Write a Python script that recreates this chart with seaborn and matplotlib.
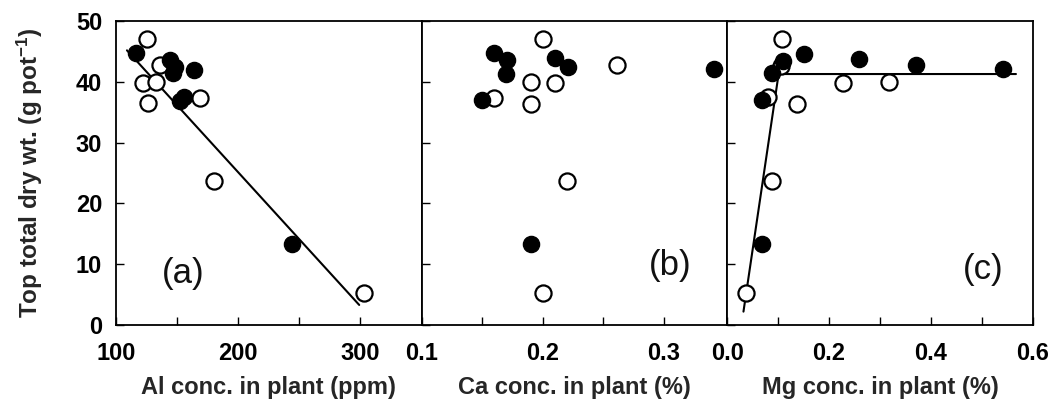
import numpy as np
import pandas as pd
import matplotlib
matplotlib.use("Agg")
import matplotlib.pyplot as plt
import seaborn as sns

# ---- data ----
al_x = [125, 136, 122, 133, 126, 169, 180, 303,
        116, 144, 148, 147, 164, 152, 156, 244]
al_y = [47.0, 42.8, 39.8, 40.0, 36.5, 37.4, 23.7, 5.3,
        44.7, 43.6, 42.5, 41.4, 41.9, 36.8, 37.5, 13.4]
al_fill = ["open"] * 8 + ["filled"] * 8
al_fit_x = [109, 299]
al_fit_y = [45.2, 3.3]

ca_x = [0.200, 0.261, 0.190, 0.210, 0.160, 0.190, 0.220, 0.200,
        0.1595, 0.1705, 0.170, 0.210, 0.221, 0.341, 0.150, 0.190]
ca_y = [47.0, 42.8, 40.0, 39.8, 37.4, 36.3, 23.7, 5.3,
        44.7, 43.6, 41.3, 43.9, 42.5, 42.1, 37.1, 13.4]
ca_fill = ["open"] * 8 + ["filled"] * 8

mg_x = [0.107, 0.105, 0.228, 0.318, 0.081, 0.138, 0.088, 0.037,
        0.109, 0.150, 0.088, 0.259, 0.370, 0.541, 0.068, 0.068]
mg_y = [47.0, 42.6, 39.8, 40.0, 37.6, 36.3, 23.7, 5.3,
        43.5, 44.6, 41.4, 43.7, 42.8, 42.1, 37.1, 13.4]
mg_fill = ["open"] * 8 + ["filled"] * 8
mg_fit_x = [0.032, 0.101, 0.567]
mg_fit_y = [2.2, 41.3, 41.3]

y_ticks = [0, 10, 20, 30, 40, 50]
panel_labels = ["(a)", "(b)", "(c)"]
x_labels = ["Al conc. in plant (ppm)", "Ca conc. in plant (%)", "Mg conc. in plant (%)"]
y_label = "Top total dry wt. (g pot$^{\\mathbf{-1}}$)"

# ---- style ----
sns.set_theme(style="ticks")
plt.rcParams["font.family"] = ["Liberation Sans", "DejaVu Sans"]
plt.rcParams["mathtext.fontset"] = "custom"
plt.rcParams["mathtext.rm"] = "Liberation Sans:bold"
plt.rcParams["mathtext.bf"] = "Liberation Sans:bold"
plt.rcParams["mathtext.it"] = "Liberation Sans:bold"

fig, axes = plt.subplots(1, 3, figsize=(10.56, 4.07), dpi=100, sharey=True)
fig.subplots_adjust(left=0.1098, right=0.978, top=0.948, bottom=0.2015, wspace=0)

panels = [
    (al_x, al_y, al_fill, (100, 350), [100, 200, 300], ["100", "200", "300"], [150, 250]),
    (ca_x, ca_y, ca_fill, (0.1, 0.352), [0.1, 0.2, 0.3], ["0.1", "0.2", "0.3"], [0.15, 0.25]),
    (mg_x, mg_y, mg_fill, (0.0, 0.6), [0.0, 0.2, 0.4, 0.6], ["0.0", "0.2", "0.4", "0.6"], [0.1, 0.3, 0.5]),
]
label_pos = [(0.219, 0.171), (0.813, 0.197), (0.837, 0.181)]

for i, (ax, (xs, ys, fl, xlim, xt, xtl, xminor)) in enumerate(zip(axes, panels)):
    df = pd.DataFrame({"x": xs, "y": ys, "fill": fl})
    op = df[df["fill"] == "open"]
    fi = df[df["fill"] == "filled"]
    sns.scatterplot(data=op, x="x", y="y", ax=ax, s=135, facecolor="white",
                    edgecolor="black", linewidth=1.6, zorder=3, legend=False)
    sns.scatterplot(data=fi, x="x", y="y", ax=ax, s=135, color="black",
                    edgecolor="black", linewidth=1.0, zorder=4, legend=False)
    if i == 0:
        sns.lineplot(x=al_fit_x, y=al_fit_y, ax=ax, color="black", linewidth=1.5, zorder=2)
    if i == 2:
        sns.lineplot(x=mg_fit_x, y=mg_fit_y, ax=ax, color="black", linewidth=1.5,
                     zorder=2, sort=False, estimator=None)
    ax.set_xlim(*xlim)
    ax.set_ylim(0, 50)
    ax.set_xticks(xt)
    ax.set_xticklabels(xtl)
    ax.set_xticks(xminor, minor=True)
    ax.set_yticks(y_ticks)
    ax.tick_params(axis="both", which="both", direction="in", length=6, width=1.0,
                   labelsize=17, colors="black")
    ax.tick_params(axis="x", which="both", pad=12)
    ax.tick_params(axis="y", which="both", pad=10, left=True)
    for lab in ax.get_xticklabels() + ax.get_yticklabels():
        lab.set_fontweight("bold")
    ax.set_xlabel(x_labels[i], fontsize=17, fontweight="bold", labelpad=8)
    ax.set_ylabel("")
    for sp in ax.spines.values():
        sp.set_visible(True)
        sp.set_linewidth(1.3)
        sp.set_color("black")
    ax.text(label_pos[i][0], label_pos[i][1], panel_labels[i],
            transform=ax.transAxes, fontsize=25, ha="center", va="center",
            color="#111111")

axes[0].set_ylabel(y_label, fontsize=17.5, fontweight="bold", labelpad=22)
for ax in axes[1:]:
    ax.tick_params(axis="y", labelleft=False)

fig.savefig("out.png", dpi=100)
